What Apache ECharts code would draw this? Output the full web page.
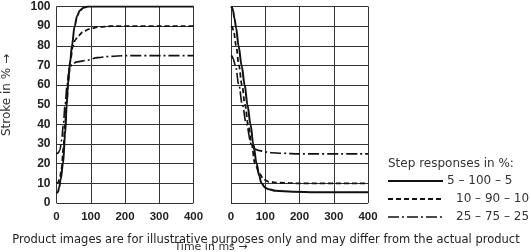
<!DOCTYPE html>
<html>
<head>
<meta charset="utf-8">
<script src="https://cdn.jsdelivr.net/npm/echarts@6/dist/echarts.min.js"></script>
<style>html,body{margin:0;padding:0;background:#fff}#c{width:531px;height:252px}</style>
</head>
<body>
<div id="c"></div>
<script>
// ---- data ----
const xTicks = [0, 100, 200, 300, 400];
const yTicks = [0, 10, 20, 30, 40, 50, 60, 70, 80, 90, 100];
const seriesNames = ['5 – 100 – 5', '10 – 90 – 10', '25 – 75 – 25'];

// Step up (left chart), time in ms / stroke in %
const upSolidT = [0, 4, 8, 12, 19, 25, 30, 33, 40, 45, 53, 60, 68, 80, 92, 400];
const upSolidV = [5, 5.5, 8, 12, 20, 35, 50, 60, 72, 80, 90, 95, 98, 99.5, 100, 100];
const upDashT = [0, 5, 10, 15, 20, 25, 30, 35, 40, 48, 55, 63, 77, 95, 121, 160, 400];
const upDashV = [10, 10.5, 13, 18, 28, 40, 52, 63, 72, 80, 83, 85, 87, 88.5, 89.5, 90, 90];
const upDotT = [0, 5, 10, 15, 20, 25, 31, 35, 39, 45, 60, 88, 120, 156, 200, 400];
const upDotV = [25, 25.5, 27, 32, 40, 50, 60, 66, 69, 70.5, 71.8, 72.6, 74, 74.6, 75, 75];

// Step down (right chart)
const downSolidT = [0, 3, 6, 10, 15, 22, 31, 40, 48, 57, 65, 75, 82, 89, 100, 110, 130, 180, 250, 400];
const downSolidV = [100, 99.5, 98, 94, 89, 80, 70, 60, 50, 40, 30, 20, 14, 10, 7.8, 7, 6.2, 5.7, 5.5, 5.5];
const downDashT = [0, 4, 8, 15, 23, 32, 41, 50, 60, 70, 83, 95, 110, 140, 200, 400];
const downDashV = [90, 89.5, 87, 80, 70, 60, 50, 40, 30, 20, 15, 12, 10.8, 10.3, 10, 10];
const downDotT = [0, 3, 6, 13, 23, 33, 45, 59, 63, 68, 80, 100, 117, 150, 200, 400];
const downDotV = [75, 74.8, 73.5, 70, 60, 50, 40, 30, 28.5, 27.6, 26.8, 26, 25.6, 25.3, 25, 25];

// ---- chart ----
const pairs = (t, v) => t.map((x, i) => [x, v[i]]);
const dashStyles = ['solid', [5, 3], [11, 3, 2, 3]];
const widths = [2, 1.8, 1.6];
const lineColor = '#111';
const gridColor = '#333';

function xAxis(idx) {
  return {
    gridIndex: idx, type: 'value', min: 0, max: 400, interval: 100,
    axisLine: {show: false}, axisTick: {show: false},
    splitLine: {show: true, lineStyle: {color: gridColor, width: 1}},
    axisLabel: {color: '#222', fontFamily: 'Liberation Sans', fontWeight: 'bold', fontSize: 11.5, margin: 8,
      formatter: v => xTicks.includes(v) ? String(v) : ''}
  };
}
function yAxis(idx, labels) {
  return {
    gridIndex: idx, type: 'value', min: 0, max: 100, interval: 10,
    axisLine: {show: false}, axisTick: {show: false},
    splitLine: {show: true, lineStyle: {color: gridColor, width: 1}},
    axisLabel: {show: labels, color: '#222', fontFamily: 'Liberation Sans', fontWeight: 'bold', fontSize: 12, margin: 6,
      formatter: v => yTicks.includes(v) ? String(v) : ''}
  };
}
function line(name, idx, data, k) {
  return {
    name, type: 'line', xAxisIndex: idx, yAxisIndex: idx, data, showSymbol: false, symbol: 'none',
    smooth: 0.35, smoothMonotone: 'x', animation: false, silent: true,
    lineStyle: {color: lineColor, width: widths[k], type: dashStyles[k]}
  };
}

const legendX1 = 388, legendX2 = 443;
const legendRows = [181, 199, 217];
const legendTextX = [447, 456, 456];
const graphic = [
  {type: 'text', x: 7, y: 95, rotation: Math.PI / 2, style: {text: 'Stroke in % →', fill: '#333', font: '12px "DejaVu Sans"', textAlign: 'center', textVerticalAlign: 'middle'}},
  {type: 'text', x: 211, y: 247, style: {text: 'Time in ms →', fill: '#333', font: '11px "DejaVu Sans"', textAlign: 'center', textVerticalAlign: 'middle'}},
  {type: 'text', x: 388, y: 164, style: {text: 'Step responses in %:', fill: '#333', font: '12px "DejaVu Sans"', textAlign: 'left', textVerticalAlign: 'middle'}},
  {type: 'text', x: 266, y: 240, style: {text: 'Product images are for illustrative purposes only and may differ from the actual product', fill: '#222', font: '11.5px "DejaVu Sans"', textAlign: 'center', textVerticalAlign: 'middle'}}
];
seriesNames.forEach((n, k) => {
  graphic.push({type: 'line', shape: {x1: legendX1, y1: legendRows[k], x2: legendX2, y2: legendRows[k]},
    style: {stroke: lineColor, lineWidth: widths[k], lineDash: dashStyles[k] === 'solid' ? null : dashStyles[k]}});
  graphic.push({type: 'text', x: legendTextX[k], y: legendRows[k], style: {text: n, fill: '#333', font: '12px "DejaVu Sans"', textAlign: 'left', textVerticalAlign: 'middle'}});
});

const chart = echarts.init(document.getElementById('c'), null, {renderer: 'canvas'});
chart.setOption({
  animation: false,
  backgroundColor: '#fff',
  grid: [
    {left: 56.5, top: 6.5, width: 137, height: 196.5},
    {left: 231, top: 6.5, width: 137, height: 196.5}
  ],
  xAxis: [xAxis(0), xAxis(1)],
  yAxis: [yAxis(0, true), yAxis(1, false)],
  series: [
    line(seriesNames[0], 0, pairs(upSolidT, upSolidV), 0),
    line(seriesNames[1], 0, pairs(upDashT, upDashV), 1),
    line(seriesNames[2], 0, pairs(upDotT, upDotV), 2),
    line(seriesNames[0], 1, pairs(downSolidT, downSolidV), 0),
    line(seriesNames[1], 1, pairs(downDashT, downDashV), 1),
    line(seriesNames[2], 1, pairs(downDotT, downDotV), 2)
  ],
  graphic
});
</script>
</body>
</html>
